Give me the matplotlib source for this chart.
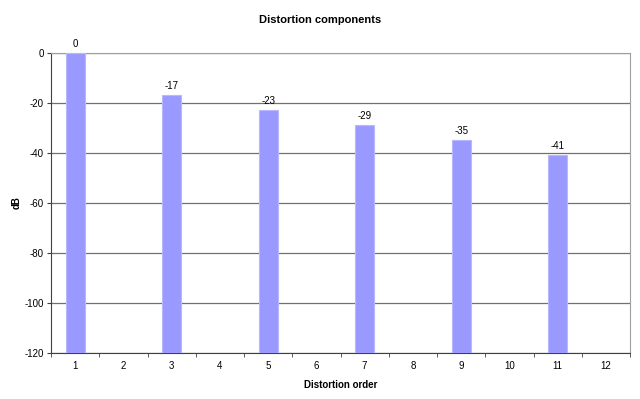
import numpy as np
import matplotlib.pyplot as plt

plt.rcParams['font.family'] = ['Liberation Sans', 'DejaVu Sans']

orders = list(range(1, 13))
bar_orders = [1, 3, 5, 7, 9, 11]
levels_db = [0, -16.6, -22.6, -28.6, -34.6, -40.6]
y_ticks = [0, -20, -40, -60, -80, -100, -120]

fig = plt.figure(figsize=(6.4, 3.99), dpi=100)
ax = fig.add_axes([51 / 640, 1 - 353 / 399, 579 / 640, 300 / 399])

base = -120
heights = [v - base for v in levels_db]
ax.bar(bar_orders, heights, bottom=base, width=0.39, color='#9999ff',
       edgecolor='#b8b8ff', linewidth=0.8, zorder=3)
for x, v in zip(bar_orders, levels_db):
    ax.text(x, v + 1.5, f"{v:.0f}", ha='center', va='bottom', fontsize=7, zorder=4)

ax.set_xlim(0.5, 12.5)
ax.set_ylim(-120, 0)
ax.set_yticks(y_ticks)
ax.set_yticklabels([str(t) for t in y_ticks], fontsize=7)
ax.set_xticks(orders)
ax.set_xticklabels([str(o) for o in orders], fontsize=7)
ax.set_xticks(np.arange(0.5, 13, 1), minor=True)
ax.tick_params(axis='x', which='major', length=0, pad=6)
ax.tick_params(axis='x', which='minor', length=3, color='#404040', direction='out')
ax.tick_params(axis='y', length=3, color='#404040', pad=2)

ax.grid(axis='y', color='#707070', linewidth=0.9, zorder=1)
for s in ['top', 'right']:
    ax.spines[s].set_color('#a0a0a0')
for s in ['left', 'bottom']:
    ax.spines[s].set_color('#404040')

ax.set_xlabel('Distortion order', fontsize=7, fontweight='bold', labelpad=6)
ax.set_ylabel('dB', fontsize=7, fontweight='bold', va='center')
ax.yaxis.set_label_coords((17 - 51) / 579, 0.5)
fig.text(0.5, 1 - 20 / 399, 'Distortion components', ha='center', va='center',
         fontsize=8, fontweight='bold')

fig.savefig('out.png', dpi=100)
